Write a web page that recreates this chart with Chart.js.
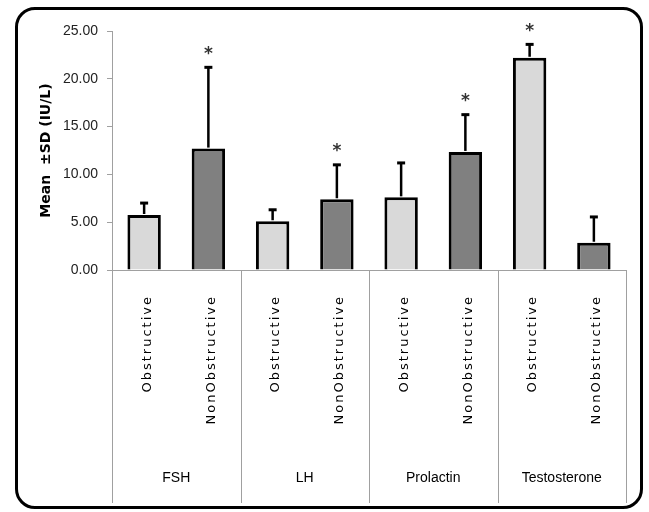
<!DOCTYPE html>
<html lang="en">
<head>
    <meta charset="UTF-8">
    <title>Hormone levels by azoospermia type</title>
    <script src="https://cdn.jsdelivr.net/npm/chart.js"></script>
    <style>
        html, body { margin: 0; padding: 0; background: #fff; }
        .wrap { position: relative; width: 649px; height: 512px; }
        .frame {
            position: absolute; left: 15px; top: 7px;
            width: 622px; height: 496px;
            border: 3px solid #000; border-radius: 20px;
        }
        canvas { position: absolute; left: 0; top: 0; }
    </style>
</head>
<body>
<div class="wrap">
    <div class="frame"></div>
    <canvas id="hormoneChart" width="649" height="512"></canvas>
</div>

<script>
    const groups = ['FSH', 'LH', 'Prolactin', 'Testosterone'];
    const types = ['Obstructive', 'NonObstructive'];
    const categories = ['Obstructive', 'NonObstructive', 'Obstructive', 'NonObstructive',
                        'Obstructive', 'NonObstructive', 'Obstructive', 'NonObstructive'];
    const means = [5.75, 12.7, 5.1, 7.4, 7.6, 12.35, 22.2, 2.85];
    const sds = [1.25, 8.5, 1.2, 3.6, 3.6, 3.9, 1.4, 2.7];
    const significant = [false, true, false, true, false, true, true, false];
    const yTicks = [0, 5, 10, 15, 20, 25];

    const barColors = categories.map(c => c === 'Obstructive' ? '#D9D9D9' : '#808080');
    const axisGray = '#A0A0A0';
    const labelFont = '"Liberation Sans", Arial, sans-serif';

    // error bars, asterisks, rotated labels and group labels
    const annotations = {
        id: 'annotations',
        afterDatasetsDraw(chart) {
            const ctx = chart.ctx;
            const xs = chart.scales.x;
            const ys = chart.scales.y;
            const area = chart.chartArea;
            const half = (xs.getPixelForValue(1) - xs.getPixelForValue(0)) / 2;

            ctx.save();
            ctx.strokeStyle = '#000';
            means.forEach((m, i) => {
                const x = xs.getPixelForValue(i);
                const yBar = ys.getPixelForValue(m);
                const yTop = ys.getPixelForValue(m + sds[i]);
                ctx.lineWidth = 2.5;
                ctx.beginPath();
                ctx.moveTo(x, yBar - 1);
                ctx.lineTo(x, yTop);
                ctx.stroke();
                ctx.lineWidth = 3;
                ctx.beginPath();
                ctx.moveTo(x - 4, yTop);
                ctx.lineTo(x + 4, yTop);
                ctx.stroke();

                if (significant[i]) {
                    ctx.fillStyle = '#333';
                    ctx.font = 'bold 17px "DejaVu Sans"';
                    ctx.textAlign = 'center';
                    ctx.textBaseline = 'middle';
                    ctx.fillText('*', x, yTop - 13);
                }
            });

            // rotated category labels
            ctx.fillStyle = '#000';
            ctx.font = '13px "DejaVu Sans"';
            if ('letterSpacing' in ctx) ctx.letterSpacing = '2px';
            categories.forEach((c, i) => {
                ctx.save();
                ctx.translate(xs.getPixelForValue(i) + 3, area.bottom + 25);
                ctx.rotate(-Math.PI / 2);
                ctx.textAlign = 'right';
                ctx.textBaseline = 'middle';
                ctx.fillText(c, 0, 0);
                ctx.restore();
            });
            if ('letterSpacing' in ctx) ctx.letterSpacing = '0px';

            // group separators and group names
            ctx.strokeStyle = axisGray;
            ctx.lineWidth = 1;
            const bounds = [];
            for (let g = 0; g <= groups.length; g++) {
                const idx = g * types.length;
                const bx = idx < categories.length
                    ? xs.getPixelForValue(idx) - half
                    : xs.getPixelForValue(categories.length - 1) + half;
                bounds.push(bx);
                ctx.beginPath();
                ctx.moveTo(Math.round(bx) + 0.5, area.bottom);
                ctx.lineTo(Math.round(bx) + 0.5, xs.bottom);
                ctx.stroke();
            }
            ctx.fillStyle = '#000';
            ctx.font = '14px ' + labelFont;
            ctx.textAlign = 'center';
            ctx.textBaseline = 'middle';
            groups.forEach((g, i) => {
                ctx.fillText(g, (bounds[i] + bounds[i + 1]) / 2, xs.bottom - 25);
            });
            ctx.restore();
        }
    };

    new Chart(document.getElementById('hormoneChart'), {
        type: 'bar',
        data: {
            labels: categories,
            datasets: [{
                data: means,
                backgroundColor: barColors,
                borderColor: '#000',
                borderWidth: 3,
                categoryPercentage: 1,
                barPercentage: 0.52
            }]
        },
        options: {
            responsive: false,
            animation: false,
            devicePixelRatio: 1,
            layout: { padding: { left: 0, right: 23, top: 31, bottom: 9 } },
            plugins: { legend: { display: false }, tooltip: { enabled: false } },
            scales: {
                x: {
                    grid: { display: false },
                    border: { color: axisGray, width: 1 },
                    ticks: { display: false },
                    afterFit: s => { s.height = 233; }
                },
                y: {
                    min: yTicks[0],
                    max: yTicks[yTicks.length - 1],
                    afterBuildTicks: s => { s.ticks = yTicks.map(v => ({ value: v })); },
                    ticks: {
                        callback: v => Number(v).toFixed(2),
                        color: '#222',
                        padding: 9,
                        font: { family: labelFont, size: 14 }
                    },
                    grid: { drawOnChartArea: false, tickLength: 5, color: axisGray },
                    border: { color: axisGray, width: 1 },
                    title: {
                        display: true,
                        text: 'Mean  ±SD (IU/L)',
                        color: '#000',
                        font: { family: '"DejaVu Sans"', size: 14, weight: 'bold' },
                        padding: { top: 38, bottom: 0 }
                    },
                    afterFit: s => { s.width = 112; }
                }
            }
        },
        plugins: [annotations]
    });
</script>
</body>
</html>
